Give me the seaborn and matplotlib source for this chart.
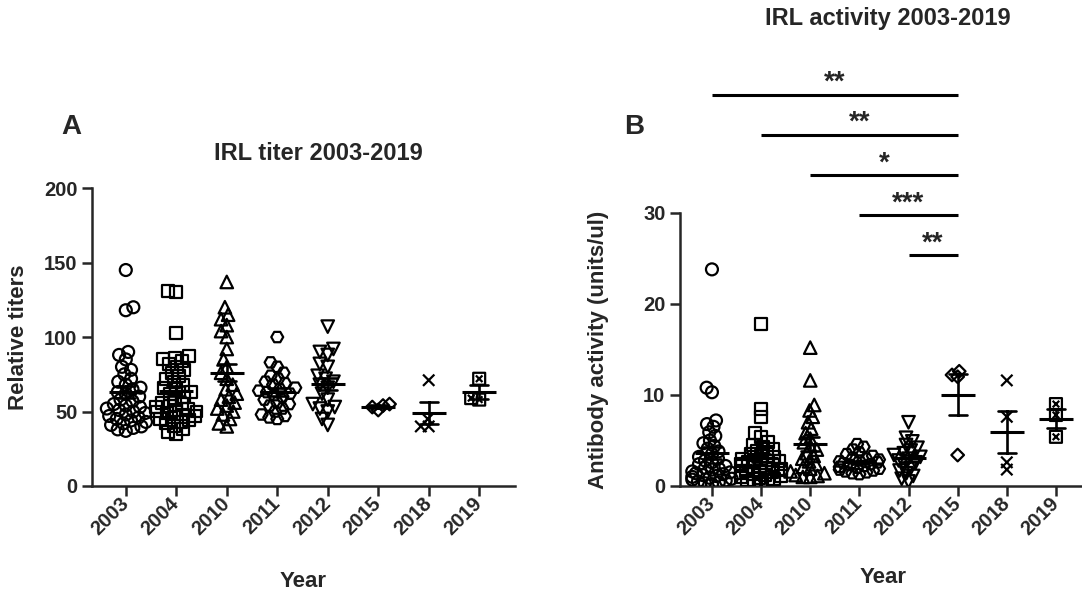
import numpy as np
import pandas as pd
import matplotlib
matplotlib.use("Agg")
import matplotlib.pyplot as plt
from matplotlib.path import Path
import seaborn as sns

# ---------------- data ----------------
years = ["2003", "2004", "2010", "2011", "2012", "2015", "2018", "2019"]

# Panel A: IRL relative titers
titer_2003 = [145, 120, 118, 90, 88, 85, 80, 78, 75, 72, 70, 68, 66, 65, 63, 62, 60, 58, 57,
              55, 54, 53, 52, 51, 50, 49, 48, 47, 46, 45, 44, 43, 42, 41, 40, 39, 38, 37]
titer_2004 = [131, 130, 103, 87, 86, 85, 84, 82, 80, 78, 76, 74, 72, 70, 68, 66, 65, 63, 62, 60,
              58, 56, 55, 54, 53, 52, 51, 50, 50, 49, 48, 47, 46, 45, 44, 43, 42, 40, 38, 36, 35]
titer_2010 = [137, 120, 115, 112, 108, 104, 100, 92, 85, 80, 76, 72, 68, 65, 62, 60, 58, 56,
              54, 52, 50, 48, 45, 42, 40]
titer_2011 = [100, 83, 80, 76, 74, 72, 70, 69, 68, 66, 65, 64, 63, 62, 61, 60, 58, 56, 55,
              54, 52, 50, 48, 47, 46, 45]
titer_2012 = [107, 92, 90, 88, 82, 80, 74, 72, 70, 68, 66, 62, 58, 55, 53, 52, 50, 45, 41]
titer_2015 = [55, 53, 51, 54]
titer_2018 = [71, 45, 40, 40]
titer_2019 = [72, 59, 58]

# Panel B: IRL antibody activity (units/ul)
act_2003 = [23.8, 10.8, 10.3, 7.2, 6.8, 6.5, 5.9, 5.5, 5.0, 4.7, 4.4, 4.1, 3.8, 3.5, 3.2, 3.0,
            2.8, 2.6, 2.4, 2.2, 2.0, 1.9, 1.8, 1.6, 1.5, 1.4, 1.3, 1.2, 1.1, 1.0, 0.9, 0.8,
            0.7, 0.6, 0.5, 0.4, 0.3, 0.2]
act_2004 = [17.8, 8.5, 7.6, 5.8, 5.4, 4.8, 4.5, 4.3, 4.1, 3.9, 3.7, 3.5, 3.3, 3.2, 3.0, 2.9,
            2.8, 2.7, 2.6, 2.5, 2.4, 2.3, 2.2, 2.1, 2.0, 1.9, 1.8, 1.7, 1.6, 1.5, 1.4, 1.3,
            1.2, 1.1, 1.0, 0.9, 0.8, 0.6, 0.5, 0.3, 0.2]
act_2010 = [15.2, 11.6, 8.9, 8.3, 7.6, 7.0, 6.3, 5.8, 5.2, 4.8, 4.4, 4.0, 3.6, 3.3, 3.0, 2.7,
            2.4, 2.1, 1.9, 1.6, 1.4, 1.2, 1.1, 1.0, 1.0]
act_2011 = [4.6, 4.3, 4.0, 3.7, 3.5, 3.3, 3.1, 3.0, 2.9, 2.8, 2.7, 2.6, 2.5, 2.4, 2.3, 2.2,
            2.1, 2.0, 1.9, 1.8, 1.7, 1.6, 1.5, 1.4, 1.3]
act_2012 = [7.0, 5.3, 4.9, 4.5, 4.2, 3.9, 3.6, 3.4, 3.2, 3.0, 2.8, 2.6, 2.3, 2.0, 1.7, 1.4,
            1.1, 0.8, 0.5]
act_2015 = [12.6, 12.0, 12.2, 3.4]
act_2018 = [11.6, 7.6, 1.8, 2.6]
act_2019 = [9.0, 7.8, 5.4]

# significance comparisons (panel B), all against 2015
sig_start_years = ["2003", "2004", "2010", "2011", "2012"]
sig_end_year = "2015"
sig_labels = ["**", "**", "*", "***", "**"]

titer_lists = [titer_2003, titer_2004, titer_2010, titer_2011, titer_2012,
               titer_2015, titer_2018, titer_2019]
act_lists = [act_2003, act_2004, act_2010, act_2011, act_2012, act_2015, act_2018, act_2019]


def long_frame(lists):
    rows = []
    for yr, vals in zip(years, lists):
        for v in vals:
            rows.append((yr, v))
    return pd.DataFrame(rows, columns=["year", "value"])


df_a = long_frame(titer_lists)
df_b = long_frame(act_lists)

# ---------------- style ----------------
sns.set_theme(style="ticks")
plt.rcParams["font.family"] = ["Liberation Sans", "DejaVu Sans"]
plt.rcParams["font.weight"] = "bold"
plt.rcParams["axes.labelweight"] = "bold"
plt.rcParams["axes.titleweight"] = "bold"

M, L, C = Path.MOVETO, Path.LINETO, Path.CLOSEPOLY
x_mark = Path([(-1, -1), (1, 1), (-1, 1), (1, -1)], [M, L, M, L])
box_x = Path([(-1, -1), (1, -1), (1, 1), (-1, 1), (-1, -1),
              (-0.55, -0.55), (0.55, 0.55), (-0.55, 0.55), (0.55, -0.55)],
             [M, L, L, L, C, M, L, M, L])
markers = {"2003": "o", "2004": "s", "2010": "^", "2011": "H", "2012": "v",
           "2015": "D", "2018": x_mark, "2019": box_x}
size_scale = {"2003": 1.0, "2004": 1.0, "2010": 1.05, "2011": 1.0, "2012": 1.05,
              "2015": 0.75, "2018": 0.95, "2019": 1.0}

fig = plt.figure(figsize=(10.82, 5.91), dpi=100)
axA = fig.add_axes([0.085, 0.1777, 0.391, 0.504])
axB = fig.add_axes([0.62847, 0.1777, 0.37153, 0.462])

DRAW_SIZE = 8.6
swarm_colls = []


def draw_panel(ax, df, swarm_size):
    for yr in years:
        sub = df[df["year"] == yr]
        n0 = len(ax.collections)
        sns.swarmplot(data=sub, x="year", y="value", order=years, ax=ax,
                      marker=markers[yr], size=swarm_size * size_scale[yr],
                      color="black", facecolor="none", edgecolor="black",
                      linewidth=1.6, zorder=3, warn_thresh=1.0)
        for coll in ax.collections[n0:]:
            swarm_colls.append((coll, DRAW_SIZE * size_scale[yr]))
    sns.pointplot(data=df, x="year", y="value", order=years, ax=ax,
                  errorbar="se", capsize=0.36, color="black",
                  linestyle="none", marker="_", markersize=24,
                  markeredgewidth=2.2, zorder=5,
                  err_kws={"linewidth": 1.9, "zorder": 5})
    for s in ["top", "right"]:
        ax.spines[s].set_visible(False)
    for s in ["left", "bottom"]:
        ax.spines[s].set_linewidth(1.8)
    ax.tick_params(axis="both", direction="out", length=7.5, width=1.8,
                   labelsize=14.5, pad=3)
    for lab in ax.get_yticklabels():
        lab.set_fontweight("bold")
    ax.set_xticks(range(len(years)))
    ax.set_xticklabels(years, rotation=45, ha="right", va="center",
                       rotation_mode="anchor", fontweight="bold", fontsize=14.5)
    ax.set_xlabel("Year", fontsize=16, fontweight="bold")


draw_panel(axA, df_a, 4.0)
draw_panel(axB, df_b, 3.3)

# Panel A axes
axA.set_ylim(0, 200)
axA.set_yticks([0, 50, 100, 150, 200])
axA.set_xlim(-0.67, 7.71)
axA.set_ylabel("Relative titers", fontsize=16, fontweight="bold")
axA.yaxis.set_label_coords(-0.149, 0.5)
axA.xaxis.set_label_coords(0.5, -0.285)
axA.set_title("IRL titer 2003-2019", fontsize=17, fontweight="bold",
              x=0.534, y=1.087, va="center")

# Panel B axes
axB.set_ylim(0, 30)
axB.set_yticks([0, 10, 20, 30])
axB.set_xlim(-0.65, 7.53)
axB.set_ylabel("Antibody activity (units/ul)", fontsize=16, fontweight="bold")
axB.yaxis.set_label_coords(-0.177, 0.5)
axB.xaxis.set_label_coords(0.505, -0.297)
axB.set_title("IRL activity 2003-2019", fontsize=17, fontweight="bold",
              x=0.517, y=1.681, va="center")

# significance bars
base_y, step_y = 25.4, 4.4
n_sig = len(sig_start_years)
end_x = years.index(sig_end_year)
for i, (sy, lab) in enumerate(zip(sig_start_years, sig_labels)):
    yline = base_y + (n_sig - 1 - i) * step_y
    x0 = years.index(sy)
    axB.plot([x0, end_x], [yline, yline], color="black", lw=2.2,
             clip_on=False, solid_capstyle="butt")
    axB.text((x0 + end_x) / 2, yline + 0.5, lab, ha="center", va="baseline",
             fontsize=20, fontweight="bold", clip_on=False)

# panel letters
fig.text(0.0656, 0.785, "A", fontsize=20, fontweight="bold", ha="center", va="center")
fig.text(0.586, 0.785, "B", fontsize=20, fontweight="bold", ha="center", va="center")

# compute swarm positions with a compact collision size, then enlarge markers
fig.canvas.draw()
for coll, sz in swarm_colls:
    coll.__dict__.pop("draw", None)
    coll.set_sizes([sz ** 2])

fig.savefig("out.png", dpi=100)
